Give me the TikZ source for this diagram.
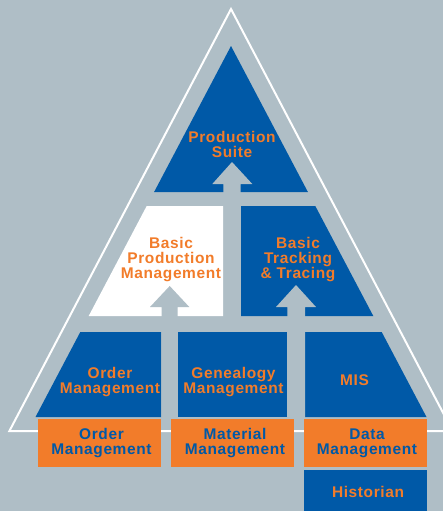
\documentclass[tikz,border=0pt]{standalone}
\usepackage{fontspec}
\newfontfamily\labfont[LetterSpace=4]{Liberation Sans}
\definecolor{bgC}{RGB}{175,190,198}
\definecolor{blueC}{RGB}{0,89,167}
\definecolor{orangeC}{RGB}{242,124,42}
\tikzset{
  lab/.style={font=\labfont\bfseries\fontsize{11.6pt}{11.25pt}\selectfont, align=center, inner sep=0pt},
  onblue/.style={lab, text=orangeC},
  onorange/.style={lab, text=blueC},
  bluepanel/.style={fill=blueC},
  orangepanel/.style={fill=orangeC},
  uparrow/.style={fill=bgC},
  frameline/.style={draw=white, line width=1.5pt, line join=miter}
}
\begin{document}
\begin{tikzpicture}[x=0.75pt,y=-0.75pt]
\fill[bgC] (0,0) rectangle (443,511);
\useasboundingbox (0,0) rectangle (443,511);
\clip (0,0) rectangle (443,511);
% outer frame
\draw[frameline] (231,9) -- (452.6,431) -- (9.4,431) -- cycle;
% top triangle
\fill[bluepanel] (231,46) -- (307.9,192) -- (154.1,192) -- cycle;
% middle row
\fill[white] (146.7,206) -- (223,206) -- (223,316) -- (88.7,316) -- cycle;
\fill[bluepanel] (241,206) -- (315.3,206) -- (373.3,316) -- (241,316) -- cycle;
% bottom row
\fill[bluepanel] (80.3,332) -- (161,332) -- (161,417) -- (35.5,417) -- cycle;
\fill[bluepanel] (178,332) -- (287,332) -- (287,417) -- (178,417) -- cycle;
\fill[bluepanel] (305,332) -- (381.7,332) -- (426.5,417) -- (305,417) -- cycle;
% arrows
\fill[uparrow] (232,162) -- (252.3,184) -- (240.7,184) -- (240.7,206) -- (223.3,206) -- (223.3,184) -- (212.3,184) -- cycle;
\fill[uparrow] (169.7,286) -- (189.3,307) -- (177.7,307) -- (177.7,417) -- (161.7,417) -- (161.7,307) -- (150,307) -- cycle;
\fill[uparrow] (296,285) -- (316,307) -- (305,307) -- (305,417) -- (287.3,417) -- (287.3,307) -- (276,307) -- cycle;
% orange row
\fill[orangepanel] (38,419) rectangle (161,467);
\fill[orangepanel] (171,419) rectangle (294,467);
\fill[orangepanel] (304,419) rectangle (427,467);
\fill[bluepanel] (304,470) rectangle (427,515);
% labels
\node[onblue] (ps) at (232,144) {Production\\Suite};
\node[onblue] (bpm) at (171,260) {Basic\\Production\\Management};
\node[onblue] (btt) at (298,260) {Basic\\Tracking\\\& Tracing};
\node[onblue] (om) at (110,382) {Order\\Management};
\node[onblue] (gm) at (233.5,382) {Genealogy\\Management};
\node[onblue] (mis) at (354.5,380.5) {MIS};
\node[onorange] (om2) at (101.5,443.5) {Order\\Management};
\node[onorange] (mm) at (235,443.5) {Material\\Management};
\node[onorange] (dm) at (367,443.5) {Data\\Management};
\node[onblue] (hist) at (368,491.5) {Historian};
\end{tikzpicture}
\end{document}
